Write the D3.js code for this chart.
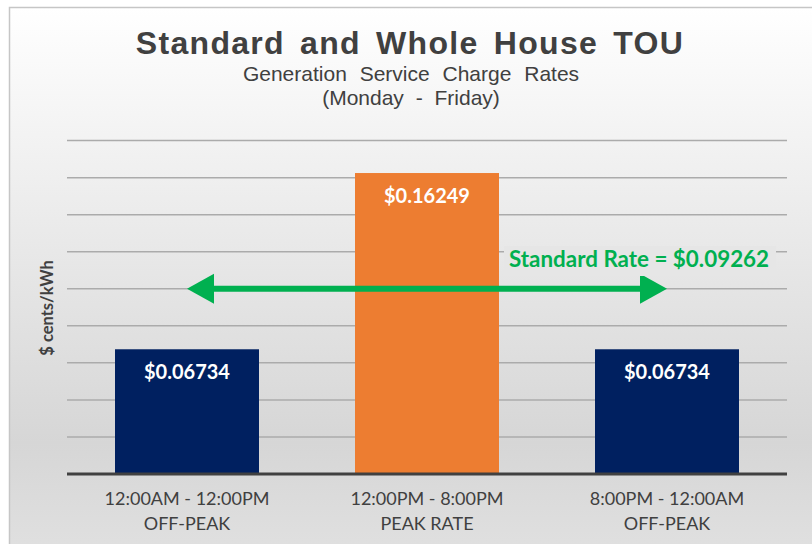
<!DOCTYPE html>
<html>
<head>
<meta charset="utf-8">
<script src="https://cdn.jsdelivr.net/npm/d3@7"></script>
<style>
  body { margin: 0; background: #fff; }
</style>
</head>
<body>
<div id="chart"></div>
<script>
// chart data
var categories = ['12:00AM - 12:00PM|OFF-PEAK', '12:00PM - 8:00PM|PEAK RATE', '8:00PM - 12:00AM|OFF-PEAK'];
var rates = [0.06734, 0.16249, 0.06734];
var barColors = ['#002060', '#ed7d31', '#002060'];
var gridTicks = [0.02, 0.04, 0.06, 0.08, 0.10, 0.12, 0.14, 0.16, 0.18];
var standardRate = 0.09262;
var arrowLevel = 0.10;   // the arrow sits on this gridline in the picture
var arrowSpan = [0, 2];  // from first bar centre to last bar centre

var width = 812, height = 544;
var margin = { top: 140, left: 67, right: 25, bottom: 70 };

var svg = d3.select('#chart').append('svg')
    .attr('width', width)
    .attr('height', height);

var defs = svg.append('defs');
var grad = defs.append('linearGradient')
    .attr('id', 'bg').attr('x1', 0).attr('y1', 0).attr('x2', 0).attr('y2', 1);
grad.append('stop').attr('offset', '0%').attr('stop-color', '#ffffff');
grad.append('stop').attr('offset', '80%').attr('stop-color', '#d6d6d6');
grad.append('stop').attr('offset', '100%').attr('stop-color', '#e0e0e0');

// chart frame
svg.append('rect')
    .attr('x', 9.5).attr('y', 7.5)
    .attr('width', width).attr('height', height)
    .attr('fill', 'url(#bg)')
    .attr('stroke', '#c6c6c6')
    .attr('stroke-width', 1.5);

var x = d3.scaleBand()
    .domain(d3.range(categories.length))
    .range([margin.left, width - margin.right])
    .paddingInner(0.4)
    .paddingOuter(0.2);

var y = d3.scaleLinear()
    .domain([0, 0.18])
    .range([474, 140.6]);

// gridlines
svg.append('g').selectAll('line')
    .data(gridTicks).enter().append('line')
    .attr('x1', margin.left).attr('x2', width - margin.right)
    .attr('y1', function (d) { return y(d); })
    .attr('y2', function (d) { return y(d); })
    .attr('stroke', '#ababab')
    .attr('stroke-width', 1.5);

// bars
svg.append('g').selectAll('rect')
    .data(rates).enter().append('rect')
    .attr('x', function (d, i) { return x(i); })
    .attr('y', function (d) { return y(d); })
    .attr('width', x.bandwidth())
    .attr('height', function (d) { return y(0) - y(d); })
    .attr('fill', function (d, i) { return barColors[i]; });

// baseline
svg.append('line')
    .attr('x1', margin.left).attr('x2', width - margin.right)
    .attr('y1', y(0)).attr('y2', y(0))
    .attr('stroke', '#404040')
    .attr('stroke-width', 3);

// bar value labels
svg.append('g').selectAll('text')
    .data(rates).enter().append('text')
    .attr('x', function (d, i) { return x(i) + x.bandwidth() / 2; })
    .attr('y', function (d) { return y(d) + 29.5; })
    .attr('text-anchor', 'middle')
    .attr('fill', '#ffffff')
    .attr('font-family', 'Lato, sans-serif')
    .attr('font-weight', 'bold')
    .attr('font-size', '20px')
    .text(function (d) { return '$' + d.toFixed(5); });

// category labels
var cat = svg.append('g').selectAll('text')
    .data(categories).enter().append('text')
    .attr('x', function (d, i) { return x(i) + x.bandwidth() / 2; })
    .attr('y', 505)
    .attr('text-anchor', 'middle')
    .attr('fill', '#404040')
    .attr('font-family', 'Lato, sans-serif')
    .attr('font-size', '18px');
cat.each(function (d) {
    var parts = d.split('|');
    var t = d3.select(this);
    t.append('tspan').attr('x', t.attr('x')).text(parts[0]);
    t.append('tspan').attr('x', t.attr('x')).attr('dy', 25).text(parts[1]);
});

// standard rate arrow
var ay = y(arrowLevel);
var ax1 = x(arrowSpan[0]) + x.bandwidth() / 2;
var ax2 = x(arrowSpan[1]) + x.bandwidth() / 2;
var green = '#00b050';
svg.append('line')
    .attr('x1', ax1 + 20).attr('x2', ax2 - 20)
    .attr('y1', ay).attr('y2', ay)
    .attr('stroke', green).attr('stroke-width', 6);
svg.append('path')
    .attr('d', 'M' + ax1 + ',' + ay + 'L' + (ax1 + 27) + ',' + (ay - 15) + 'L' + (ax1 + 27) + ',' + (ay + 15) + 'Z')
    .attr('fill', green);
svg.append('path')
    .attr('d', 'M' + ax2 + ',' + ay + 'L' + (ax2 - 27) + ',' + (ay - 15) + 'L' + (ax2 - 27) + ',' + (ay + 15) + 'Z')
    .attr('fill', green);

svg.append('rect')
    .attr('x', 504).attr('y', 246).attr('width', 272).attr('height', 30)
    .attr('fill', '#e6e6e6');
svg.append('text')
    .attr('x', 509).attr('y', 267)
    .attr('fill', green)
    .attr('font-family', 'Lato, sans-serif')
    .attr('font-weight', 'bold')
    .attr('font-size', '22.4px')
    .text('Standard Rate = $' + standardRate.toFixed(5));

// titles
svg.append('text')
    .attr('x', 410).attr('y', 54)
    .attr('text-anchor', 'middle')
    .attr('fill', '#404040')
    .attr('font-family', 'Liberation Sans, Arial, sans-serif')
    .attr('font-weight', 'bold')
    .attr('font-size', '32px')
    .attr('letter-spacing', '1.3px')
    .attr('word-spacing', '5px')
    .text('Standard and Whole House TOU');
svg.append('text')
    .attr('x', 411).attr('y', 81)
    .attr('text-anchor', 'middle')
    .attr('fill', '#404040')
    .attr('font-family', 'Liberation Sans, Arial, sans-serif')
    .attr('font-size', '21px')
    .attr('word-spacing', '7px')
    .text('Generation Service Charge Rates');
svg.append('text')
    .attr('x', 411).attr('y', 105)
    .attr('text-anchor', 'middle')
    .attr('fill', '#404040')
    .attr('font-family', 'Liberation Sans, Arial, sans-serif')
    .attr('font-size', '21px')
    .attr('word-spacing', '6px')
    .text('(Monday - Friday)');

// y axis title
svg.append('text')
    .attr('transform', 'translate(53,308) rotate(-90)')
    .attr('text-anchor', 'middle')
    .attr('fill', '#404040')
    .attr('font-family', 'Lato, sans-serif')
    .attr('font-weight', 'bold')
    .attr('font-size', '16.5px')
    .text('$ cents/kWh');
</script>
</body>
</html>
